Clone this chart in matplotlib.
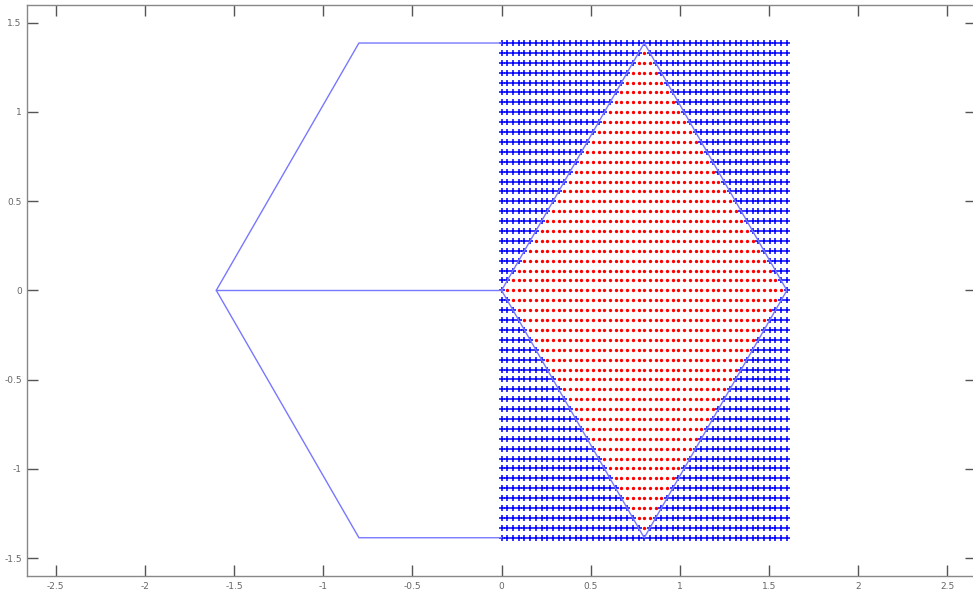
import numpy as np
import matplotlib
matplotlib.use('Agg')
import matplotlib.pyplot as plt
from matplotlib.path import Path

# outline: half hexagon on the left plus the middle spoke
hex_x = [0.0, -0.8, -1.6, -0.8, 0.0]
hex_y = [1.3856, 1.3856, 0.0, -1.3856, -1.3856]
spoke_x = [-1.6, 0.0]
spoke_y = [0.0, 0.0]

# rhombus on the right
rho_x = [0.0, 0.8, 1.6, 0.8, 0.0]
rho_y = [0.0, 1.3856, 0.0, -1.3856, 0.0]

# sample grid
grid_x = np.linspace(0.0, 1.6, 51)
grid_y = np.linspace(-1.3856, 1.3856, 51)

X, Y = np.meshgrid(grid_x, grid_y)
pts = np.column_stack([X.ravel(), Y.ravel()])
inside = Path(np.column_stack([rho_x, rho_y])).contains_points(pts, radius=1e-9)

fig = plt.figure(figsize=(9.73, 5.92), dpi=100)
ax = fig.add_axes([0.028, 0.027, 0.975, 0.965])

ax.plot(pts[~inside, 0], pts[~inside, 1], '+', color='#0000ff', ms=4.0, mew=1.1)
ax.plot(pts[inside, 0], pts[inside, 1], '.', color='#ff0000', ms=2.8)
ax.plot(hex_x, hex_y, color='#7878ff', lw=1.0)
ax.plot(spoke_x, spoke_y, color='#7878ff', lw=1.0)
ax.plot(rho_x, rho_y, color='#7878ff', lw=1.0)

ax.set_xlim(-2.66, 2.66)
ax.set_ylim(-1.6, 1.6)
ax.set_xticks([-2.5, -2, -1.5, -1, -0.5, 0, 0.5, 1, 1.5, 2, 2.5])
ax.set_xticklabels(['-2.5', '-2', '-1.5', '-1', '-0.5', '0', '0.5', '1', '1.5', '2', '2.5'])
ax.set_yticks([-1.5, -1, -0.5, 0, 0.5, 1, 1.5])
ax.set_yticklabels(['-1.5', '-1', '-0.5', '0', '0.5', '1', '1.5'])
ax.tick_params(direction='in', length=8, width=1, color='#555555',
               labelsize=6.5, labelcolor='#666666', top=True, right=True, pad=4)
for s in ax.spines.values():
    s.set_color('#888888')
    s.set_linewidth(1)

fig.savefig('out.png', dpi=100)
